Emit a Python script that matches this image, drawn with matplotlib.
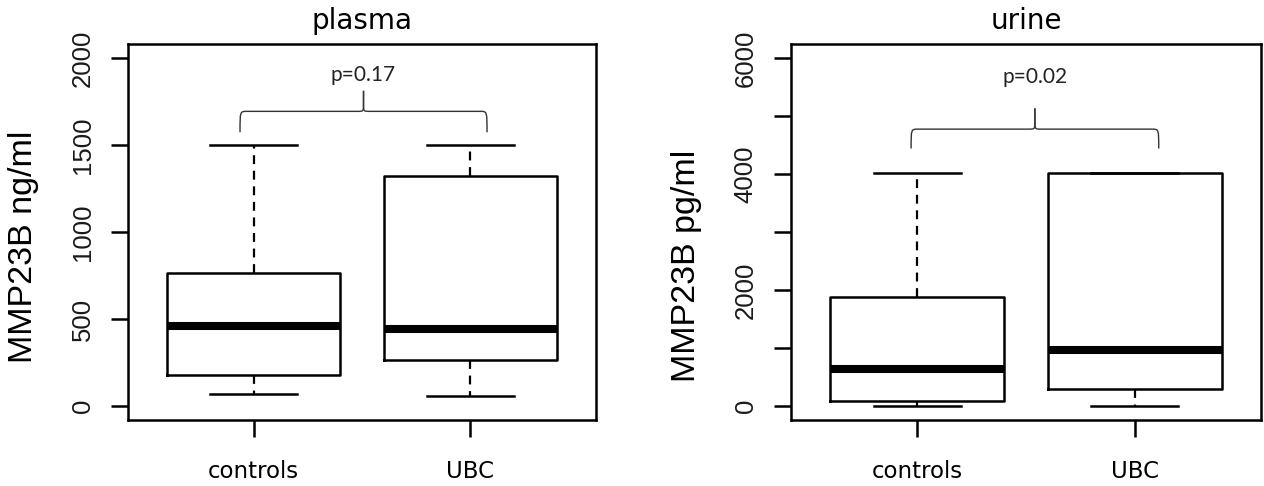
import matplotlib.pyplot as plt
from matplotlib.path import Path
from matplotlib.patches import PathPatch

# --- Data ---
groups = ["controls", "UBC"]

# plasma, ng/ml
plasma_whislo = [72, 56]
plasma_q1 = [180, 262]
plasma_med = [458, 440]
plasma_q3 = [767, 1322]
plasma_whishi = [1500, 1500]
plasma_p = "p=0.17"

# urine, pg/ml
urine_whislo = [0, 0]
urine_q1 = [95, 290]
urine_med = [635, 965]
urine_q3 = [1878, 4010]
urine_whishi = [4010, 4010]
urine_p = "p=0.02"

plasma_yticks = [0, 500, 1000, 1500, 2000]
urine_yticks = [0, 1000, 2000, 3000, 4000, 5000, 6000]
urine_ylabels = ["0", "", "2000", "", "4000", "", "6000"]

ROT_FONT = "Liberation Sans"
HOR_FONT = "DejaVu Sans"
P_FONT = "Lato"


def draw_brace(ax, x0, x1, y_end, y_bar, y_tip, dx=0.03, color="#333333"):
    xm = (x0 + x1) / 2
    rise = y_bar + (y_tip - y_bar) * 0.35
    for a, s in ((x0, 1), (x1, -1)):
        verts = [
            (a, y_end), (a, y_bar), (a, y_bar), (a + s * dx, y_bar),
            (xm - s * dx, y_bar),
            (xm, y_bar), (xm, y_bar), (xm, rise),
            (xm, y_tip),
        ]
        codes = [Path.MOVETO, Path.CURVE4, Path.CURVE4, Path.CURVE4,
                 Path.LINETO,
                 Path.CURVE4, Path.CURVE4, Path.CURVE4,
                 Path.LINETO]
        ax.add_patch(PathPatch(Path(verts, codes), fill=False,
                               edgecolor=color, linewidth=1.0))


def panel(ax, title, ylabel, ylabel_y, whislo, q1, med, q3, whishi, ylim,
          yticks, ylabels, ptext, brace_y, ptext_y, brace_x):
    stats = []
    for i in range(len(groups)):
        stats.append({"whislo": whislo[i], "q1": q1[i], "med": med[i],
                      "q3": q3[i], "whishi": whishi[i], "fliers": []})
    ax.bxp(stats, positions=[1, 2], widths=0.8, capwidths=0.4,
           showfliers=False,
           boxprops=dict(color="black", linewidth=1.8),
           medianprops=dict(color="black", linewidth=5.8, solid_capstyle="butt"),
           whiskerprops=dict(color="black", linewidth=1.6, linestyle=(0, (4, 3))),
           capprops=dict(color="black", linewidth=1.8))

    ax.set_xlim(0.42, 2.58)
    ax.set_ylim(*ylim)
    ax.set_xticks([1, 2])
    ax.set_xticklabels(groups, family=HOR_FONT, fontsize=16.5)
    ax.set_yticks(yticks)
    ax.set_yticklabels(ylabels, family=ROT_FONT, fontsize=18.5, rotation=90,
                       va="center", color="#1a1a1a")

    for sp in ax.spines.values():
        sp.set_linewidth(1.8)
    ax.tick_params(axis="both", direction="out", length=12, width=1.8)
    ax.tick_params(axis="y", pad=12)
    ax.tick_params(axis="x", pad=17)

    ax.set_title(title, family=HOR_FONT, fontsize=20, pad=11)
    ax.set_ylabel(ylabel, family=ROT_FONT, fontsize=24.5)
    ax.yaxis.set_label_coords(-0.19, ylabel_y)

    draw_brace(ax, brace_x[0], brace_x[1], *brace_y)
    ax.text((brace_x[0] + brace_x[1]) / 2, ptext_y, ptext, family=P_FONT,
            fontsize=15, ha="center", va="center", color="#222222")


fig = plt.figure(figsize=(12.64, 4.86), dpi=100)
ax1 = fig.add_axes([128 / 1264, 66 / 486, 468 / 1264, 376 / 486])
ax2 = fig.add_axes([791 / 1264, 66 / 486, 470 / 1264, 376 / 486])

panel(ax1, "plasma", "MMP23B ng/ml", 0.46,
      plasma_whislo, plasma_q1, plasma_med, plasma_q3, plasma_whishi,
      (-80, 2080), plasma_yticks, [str(t) for t in plasma_yticks],
      plasma_p, (1573, 1693, 1811), 1904, (0.937, 2.077))

panel(ax2, "urine", "MMP23B pg/ml", 0.41,
      urine_whislo, urine_q1, urine_med, urine_q3, urine_whishi,
      (-240, 6240), urine_yticks, urine_ylabels,
      urine_p, (4439, 4773, 5131), 5667, (0.972, 2.11))

fig.savefig("out.png", dpi=100)
